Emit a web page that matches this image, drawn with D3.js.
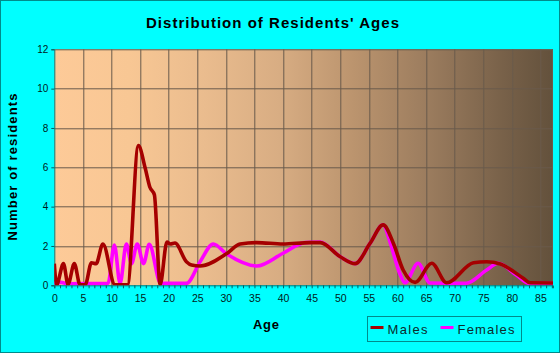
<!DOCTYPE html>
<html>
<head>
<meta charset="utf-8">
<style>
  body { margin: 0; background: #00ffff; }
  svg { display: block; font-family: Arial, "Liberation Sans", sans-serif; }
</style>
</head>
<body>
<svg></svg>
<script src="https://d3js.org/d3.v7.min.js"></script>
<script>
// values: [age, residents]
const males = [
  [0, 1.1], [0.4, 0.03], [1.6, 1.1], [2.4, 0.05], [3.5, 1.1], [4.5, 0.02], [5.4, 0.02],
  [6.5, 1.15], [7.3, 1.1], [8.5, 2.1], [10.6, 0.03], [12.8, 0.03], [14.7, 7.1],
  [15.9, 5.95], [16.7, 5.0], [17.5, 4.6], [18.5, 0.03], [19.7, 2.2], [20.3, 2.1],
  [21.1, 2.15], [23.1, 1.2], [24, 1.03], [25.5, 0.98], [30.1, 1.6], [32.5, 2.1],
  [35.4, 2.17], [40, 2.1], [44.7, 2.17], [46.5, 2.17], [50, 1.45], [52.6, 1.1],
  [55.2, 2.13], [57.5, 3.07], [59.3, 2.13], [61, 0.78], [63.1, 0.15], [66, 1.12],
  [68.6, 0.13], [73.3, 1.15], [75.6, 1.2], [78, 1.08], [82, 0.36], [83.2, 0.13], [87.2, 0.12]
];
const females = [
  [0, 0.1], [1.2, 0.15], [2.2, 0.08], [9.4, 0.1], [10.5, 2.05], [11.5, 0.1], [12.6, 2.1],
  [13.5, 1.1], [14.5, 2.1], [15.6, 1.1], [16.6, 2.08], [18.6, 0.1], [23.1, 0.1],
  [25.5, 1.2], [27.8, 2.1], [30.1, 1.6], [35.4, 0.98], [40, 1.63], [43.8, 2.17],
  [46.5, 2.2], [50, 1.45], [52.6, 1.1], [55.2, 2.13], [57.5, 3.07], [58.7, 2.2],
  [60.4, 0.6], [61.3, 0.13], [63.6, 1.12], [65.7, 0.12], [72, 0.1], [75.6, 0.78],
  [77.6, 1.12], [80.8, 0.52], [83, 0.1], [87.2, 0.1]
];
const xTicks = d3.range(0, 86, 5);
const yTicks = [0, 2, 4, 6, 8, 10, 12];
const seriesNames = ["Males", "Females"];
const seriesColors = ["#a50000", "#ff00ff"];

const width = 560, height = 353;
const margin = { top: 49.3, right: 7, bottom: 67.7, left: 54.3 };
const innerWidth = width - margin.left - margin.right;
const innerHeight = height - margin.top - margin.bottom;

const svg = d3.select('svg').attr('width', width).attr('height', height);

// outer frame
svg.append('rect').attr('x', 0.5).attr('y', 0.5).attr('width', width - 1).attr('height', height - 1)
  .attr('fill', '#00ffff').attr('stroke', '#008b8b');

const defs = svg.append('defs');
const grad = defs.append('linearGradient').attr('id', 'bg').attr('x1', 0).attr('x2', 1).attr('y1', 0).attr('y2', 0);
[[0, '#fdca98'], [0.15, '#f8c794'], [0.3, '#eabc8e'], [0.45, '#d8ad83'], [0.6, '#bb946e'],
 [0.75, '#9b7c5e'], [0.9, '#786149'], [1, '#63513c']]
  .forEach(s => grad.append('stop').attr('offset', s[0]).attr('stop-color', s[1]));
defs.append('clipPath').attr('id', 'clip').append('rect').attr('width', innerWidth).attr('height', innerHeight);

const g = svg.append('g').attr('transform', `translate(${margin.left},${margin.top})`);

const xScale = d3.scaleLinear().domain([0, 87.2]).range([0, innerWidth]);
const yScale = d3.scaleLinear().domain([0, 12]).range([innerHeight, 0]);

g.append('rect').attr('width', innerWidth).attr('height', innerHeight).attr('fill', 'url(#bg)');

// grid
g.append('g').selectAll('line').data(xTicks.slice(1)).enter().append('line')
  .attr('x1', d => Math.round(xScale(d)) + 0.5).attr('x2', d => Math.round(xScale(d)) + 0.5)
  .attr('y1', 0).attr('y2', innerHeight).attr('stroke', '#6a5b4c').attr('stroke-width', 1);
g.append('g').selectAll('line').data(yTicks.slice(1)).enter().append('line')
  .attr('y1', d => Math.round(yScale(d)) + 0.5).attr('y2', d => Math.round(yScale(d)) + 0.5)
  .attr('x1', 0).attr('x2', innerWidth).attr('stroke', '#6a5b4c').attr('stroke-width', 1);
g.append('line').attr('x1', innerWidth - 0.5).attr('x2', innerWidth - 0.5).attr('y1', 0).attr('y2', innerHeight)
  .attr('stroke', '#6a5b4c');

// axes: minor ticks every year, labels every 5
const xMinor = g.append('g').attr('transform', `translate(0,${innerHeight})`)
  .call(d3.axisBottom(xScale).tickValues(d3.range(0, 88, 1)).tickSize(3).tickFormat(''));
xMinor.select('.domain').attr('stroke', '#007a7a');
xMinor.selectAll('.tick line').attr('stroke', '#006060');
xMinor.selectAll('.tick text').remove();
const xLabels = g.append('g').attr('transform', `translate(0,${innerHeight})`)
  .call(d3.axisBottom(xScale).tickValues(xTicks).tickSize(0).tickPadding(9));
xLabels.select('.domain').remove();
xLabels.selectAll('text').attr('font-size', 10.5).attr('fill', '#001a1a');

const yAxis = g.append('g')
  .call(d3.axisLeft(yScale).tickValues(yTicks).tickSize(3));
yAxis.select('.domain').attr('stroke', '#007a7a');
yAxis.selectAll('.tick line').attr('stroke', '#006060');
yAxis.selectAll('text').attr('font-size', 10).attr('fill', '#001a1a');

// lines
const line = d3.line().x(d => xScale(d[0])).y(d => yScale(d[1])).curve(d3.curveMonotoneX);
const lines = g.append('g').attr('clip-path', 'url(#clip)');
[females, males].forEach((data, i) => {
  lines.append('path').datum(data).attr('d', line).attr('fill', 'none')
    .attr('stroke', i === 0 ? seriesColors[1] : seriesColors[0]).attr('stroke-width', 3.6)
    .attr('stroke-linejoin', 'round');
});

// titles (spacing via textLength)
svg.append('text').attr('x', 146).attr('y', 28)
  .attr('font-size', 15).attr('font-weight', 'bold')
  .attr('textLength', 253).attr('lengthAdjust', 'spacing')
  .text("Distribution of Residents' Ages");
svg.append('text').attr('x', 253).attr('y', 329)
  .attr('font-size', 13).attr('font-weight', 'bold')
  .attr('textLength', 26).attr('lengthAdjust', 'spacing')
  .text('Age');
svg.append('text').attr('transform', 'translate(17,240.5) rotate(-90)')
  .attr('font-size', 13).attr('font-weight', 'bold')
  .attr('textLength', 147).attr('lengthAdjust', 'spacing')
  .text('Number of residents');

// legend
const legend = svg.append('g').attr('transform', 'translate(367.5,316.5)');
legend.append('rect').attr('width', 154).attr('height', 25).attr('fill', 'none').attr('stroke', '#008b8b');
const legendX = [3, 73];
const legendLen = [40, 57];
seriesNames.forEach((name, i) => {
  const item = legend.append('g').attr('transform', `translate(${legendX[i]},0)`);
  item.append('line').attr('x1', 0).attr('x2', 13).attr('y1', 11).attr('y2', 11)
    .attr('stroke', seriesColors[i]).attr('stroke-width', 3);
  item.append('text').attr('x', 17).attr('y', 17).attr('font-size', 13)
    .attr('textLength', legendLen[i]).attr('lengthAdjust', 'spacing')
    .attr('fill', '#0b2b2b').text(name);
});
</script>
</body>
</html>
